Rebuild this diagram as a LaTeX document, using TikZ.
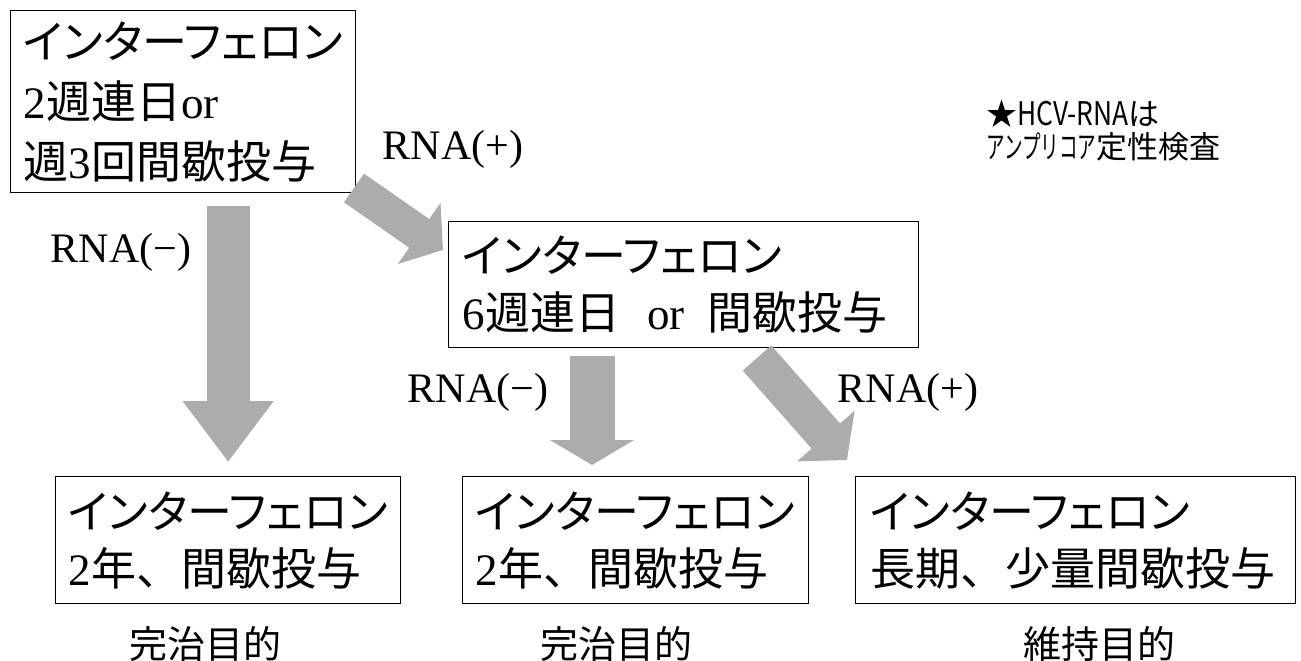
\documentclass[tikz,border=0pt]{standalone}
\usepackage{fontspec}
\setmainfont{Liberation Serif}
\newfontfamily\jp{Noto Sans CJK JP}
\newfontfamily\jpk[RawFeature=+palt]{Noto Sans CJK JP}
\newcommand\LT[1]{{\rmfamily #1}}
\usetikzlibrary{arrows.meta}
\begin{document}
\begin{tikzpicture}[x=1pt,y=-1pt,
  box/.style={draw=black, line width=1.3pt, anchor=north west, inner xsep=13pt, inner ysep=0pt,
    align=left, font=\jp\fontsize{45}{57}\selectfont},
  lbl/.style={font=\fontsize{42}{42}\selectfont, inner sep=0pt},
  goal/.style={font=\jp\fontsize{38}{38}\selectfont, inner sep=0pt},
  blockarrow/.style={color=gray!65}
]
\useasboundingbox (0,0) rectangle (1301,661);

% boxes
\node[box, minimum width=345pt, text width=319pt, minimum height=182pt] (A) at (10,10)
  {{\jpk インターフェロン}\\[3pt]\LT{2}週連日\LT{or}\\[3pt]週\LT{3}回間歇投与};
\node[box, minimum width=470pt, text width=442pt, minimum height=126pt, inner xsep=14pt] (B) at (448,221)
  {{\jpk インターフェロン}\\\LT{6}週連日\hspace{27pt}\LT{or}\hspace{23pt}間歇投与};
\node[box, minimum width=345pt, text width=319pt, minimum height=127pt] (C) at (55,476)
  {{\jpk インターフェロン}\\\LT{2}年、間歇投与};
\node[box, minimum width=346pt, text width=320pt, minimum height=127pt] (D) at (462,476)
  {{\jpk インターフェロン}\\\LT{2}年、間歇投与};
\node[box, minimum width=440pt, text width=410pt, minimum height=127pt, inner xsep=15pt] (E) at (855,476)
  {{\jpk インターフェロン}\\長期、少量間歇投与};

% goal labels
\node[goal] (g1) at (205,644) {完治目的};
\node[goal] (g2) at (616,644) {完治目的};
\node[goal] (g3) at (1099,644) {維持目的};

% RNA labels
\node[lbl] (l1) at (121,252) {RNA(−)};
\node[lbl] (l2) at (453,149) {RNA(+)};
\node[lbl] (l3) at (478,392) {RNA(−)};
\node[lbl] (l4) at (908,392) {RNA(+)};

% note
\node[anchor=north west, align=left, inner sep=0pt, font=\jp\fontsize{31}{33}\selectfont] (note) at (986,100)
  {★\scalebox{0.85}[1.05]{HCV-RNA}は\\\scalebox{0.6}[1]{アンプリコア}定性検査};

% block arrows
\coordinate (m2) at (592,0);
\coordinate (d1s) at (354,188);
\coordinate (d1e) at (443,250);
\coordinate (d2s) at (757,358);
\coordinate (d2e) at (847,460);

\draw[blockarrow, line width=43pt, -{Triangle[width=87pt,length=61pt]},
  shorten <=13pt, shorten >=14pt] (C.north |- A.south) -- (C.north);
\draw[blockarrow, line width=45pt, -{Triangle[width=83pt,length=25pt]},
  shorten <=8pt, shorten >=11pt] (m2 |- B.south) -- (m2 |- D.north);
\draw[blockarrow, line width=35pt, -{Triangle[width=73pt,length=29pt]}] (d1s) -- (d1e);
\draw[blockarrow, line width=38pt, -{Triangle[width=75pt,length=32pt]}] (d2s) -- (d2e);
\end{tikzpicture}
\end{document}
